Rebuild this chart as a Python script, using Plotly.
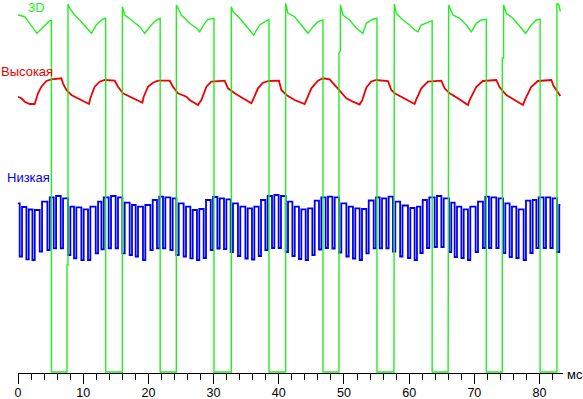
import plotly.graph_objects as go

# ---------------- data (time in ms, level in arbitrary units) ----------------
# 3D trace: (time, level) samples
green_samples = [
    (0.00, 358), (1.03, 356.3), (2.91, 339.7), (4.86, 352.3), (5.12, 352.3), (5.12, 1),
    (7.52, 1), (7.52, 108), (7.67, 108), (7.67, 369),
    (7.93, 364.7), (8.70, 358), (9.46, 353), (10.74, 343), (11.26, 339.7), (12.02, 348),
    (12.79, 353), (13.34, 354.7), (13.45, 354.7), (13.45, 1),
    (16.01, 1), (16.01, 366.3),
    (16.37, 358), (17.39, 353), (18.67, 346.3), (19.43, 339.7), (20.46, 348), (21.23, 353),
    (21.73, 354.7), (21.81, 354.7), (21.81, 1),
    (24.29, 1), (24.29, 368),
    (25.06, 358), (26.33, 349.7), (27.36, 345), (27.87, 341.3), (28.63, 349.7), (29.14, 353.7),
    (29.91, 354.7), (30.06, 354.7), (30.06, 1),
    (32.72, 1), (32.72, 366.3),
    (32.98, 361.3), (34.00, 354.7), (35.03, 346.3), (36.15, 338), (37.07, 348), (37.84, 351.3),
    (38.50, 353.7), (38.50, 1),
    (41.06, 1), (41.06, 369.7),
    (41.41, 359.7), (42.44, 356.3), (43.47, 348), (44.48, 339.7), (45.25, 346.3), (46.01, 351.3),
    (46.78, 353), (46.78, 1),
    (49.23, 1), (49.23, 320), (49.45, 322), (49.45, 368),
    (49.85, 358), (50.87, 353), (51.90, 344.7), (52.91, 339.7), (53.44, 349.7), (54.20, 353),
    (54.97, 354.7), (55.06, 354.7), (55.06, 1),
    (57.67, 1), (57.72, 369),
    (58.03, 359.7), (59.05, 353), (60.08, 348), (60.84, 343), (61.35, 341.3), (61.87, 348),
    (62.64, 350.3), (63.40, 352.3), (63.53, 352.3), (63.53, 1),
    (65.98, 1), (66.06, 368),
    (66.72, 358), (67.75, 354.7), (68.77, 348), (69.54, 341.3), (70.31, 349.7), (71.07, 353),
    (71.73, 353.7), (71.84, 353.7), (71.84, 1),
    (74.29, 1), (74.29, 314.7), (74.49, 314.7), (74.49, 368),
    (74.91, 359.7), (75.92, 354.7), (76.95, 346.3), (77.87, 339.7), (78.74, 348), (79.51, 353),
    (80.02, 353.7), (80.09, 353.7), (80.09, 1),
    (82.67, 1), (82.67, 369.7),
    (82.98, 368), (83.19, 361.3),
]

# "Высокая" trace: (time, level) samples
red_samples = [
    (0.00, 276.3), (0.52, 274.7), (1.03, 271.3), (1.79, 269), (2.56, 269), (2.71, 273),
    (3.07, 279.7), (3.59, 286.3), (4.36, 292), (5.12, 293.7), (6.66, 294.7), (6.90, 289.7),
    (7.42, 283), (8.19, 278), (9.20, 274.7), (10.23, 271.3), (10.89, 269), (11.10, 274.7),
    (11.76, 286.3), (12.53, 291.3), (13.30, 293), (14.83, 292.3), (15.34, 286.3), (16.10, 279.7),
    (17.13, 276.3), (18.16, 273), (19.08, 270.3), (19.28, 276.3), (19.94, 286.3), (20.71, 290.3),
    (21.47, 292.3), (23.27, 292.3), (23.77, 286.3), (24.54, 279.7), (25.83, 276.3), (26.33, 273),
    (27.61, 268), (28.13, 273), (28.90, 286.3), (29.66, 291.3), (31.70, 292.3), (32.21, 284.7),
    (33.24, 279.7), (34.51, 274.7), (35.80, 269.7), (36.04, 273), (36.81, 284.7), (37.58, 290.3),
    (38.50, 292), (40.03, 292.3), (40.40, 283), (41.17, 278), (42.44, 273), (43.97, 269),
    (44.33, 274.7), (45.00, 284.7), (46.01, 292.3), (46.78, 294.7), (47.81, 293.7), (48.57, 288),
    (49.34, 281.3), (50.37, 274.7), (51.38, 271.3), (52.41, 268.5), (52.82, 273), (53.44, 285.5),
    (54.20, 291.5), (54.97, 293), (56.75, 292), (57.27, 283), (57.78, 279.7), (58.80, 276.3),
    (59.82, 273), (60.84, 269), (61.10, 273.7), (61.87, 284.7), (62.88, 291.3), (64.94, 292.3),
    (65.44, 284.7), (66.21, 279.7), (67.48, 274.7), (69.02, 268), (69.28, 273), (70.31, 286.3),
    (71.32, 292), (73.37, 293), (73.88, 285.7), (74.91, 278), (76.18, 273), (77.45, 268),
    (77.87, 274.7), (78.74, 286.3), (79.75, 292), (81.81, 293), (82.16, 287), (82.82, 279.7),
    (83.19, 277),
]

# "Низкая" trace: PWM dips
blue_dip_ms = [
    0.26, 1.29, 2.21, 3.33, 4.51, 5.48, 6.55, 7.67, 8.59, 9.72,
    10.74, 11.92, 12.79, 13.91, 14.98, 16.01, 17.13, 18.05, 19.17, 20.31,
    21.32, 22.24, 23.37, 24.29, 25.41, 26.44, 27.45, 28.48, 29.56, 30.58,
    31.60, 32.62, 33.74, 34.88, 35.89, 36.92, 37.94, 38.96, 39.98, 41.06,
    42.09, 43.10, 44.13, 45.15, 46.17, 47.19, 48.22, 49.23, 50.37, 51.38,
    52.41, 53.44, 54.56, 55.48, 56.50, 57.52, 58.62, 59.82, 60.84, 61.72,
    62.73, 63.91, 64.94, 66.10, 66.98, 68.01, 69.02, 70.20, 71.32, 72.24,
    73.37, 74.39, 75.41, 76.44, 77.56, 78.59, 79.51, 80.63, 81.66, 82.67,
]
blue_dip_width_ms = 0.36
blue_high = [
    169.7, 166, 163.5, 163, 171.3, 175.7, 177, 174.7, 166.3, 165.7,
    163.7, 166.3, 171.3, 175.7, 177, 175.7, 170.3, 168, 166.3, 168,
    173, 176.3, 175.7, 174.7, 169.7, 166.3, 163, 164, 173, 176,
    174.7, 173.7, 169.7, 166.3, 164.7, 166.3, 173, 177, 178, 177,
    171.3, 166.3, 163.7, 164.7, 172.3, 175.7, 176.3, 175.7, 169.7, 166.3,
    164.7, 164, 172.5, 175.7, 174.7, 176.3, 171.3, 167.5, 165, 166.3,
    173, 175.7, 177, 174.7, 170.3, 166.3, 163.7, 166.3, 171.3, 176.3,
    175.7, 174.7, 169.7, 166.3, 163.7, 172.3, 173, 175.7, 175.7, 174.7,
    168,
]
blue_low = [
    116.3, 113.7, 113, 121.3, 123, 124.7, 124.7, 118, 114.7, 113,
    113, 119.7, 123.7, 124.7, 124.7, 119.7, 118, 116.3, 113, 123,
    124.7, 124.7, 123, 118, 116.3, 114.7, 113,
    115, 123, 124.5, 124, 121, 117, 114.5, 113.5, 117, 123,
    125, 125, 121, 117, 114, 113, 118, 123.5, 125, 124.5,
    120.5, 116.5, 114.5, 113, 119.7, 124.7, 124.7, 124.7, 121.3,
    116.5, 115, 113, 120, 125, 126, 126, 121, 116, 115,
    113, 121, 125, 125, 125, 120, 116, 115, 113, 120,
    125, 125, 125, 121,
]
blue_end_ms = 83.19

x_tick_step = 10
x_minor_step = 2
x_max = 83.6
y_max = 373

assert len(blue_high) == len(blue_dip_ms) + 1
assert len(blue_low) == len(blue_dip_ms)

# ---------------- build traces ----------------
gx = [p[0] for p in green_samples]
gy = [p[1] for p in green_samples]
rx = [p[0] for p in red_samples]
ry = [p[1] for p in red_samples]

bx, by = [0.0], [blue_high[0]]
for k, t in enumerate(blue_dip_ms):
    bx += [t, t, t + blue_dip_width_ms, t + blue_dip_width_ms]
    by += [blue_high[k], blue_low[k], blue_low[k], blue_high[k + 1]]
bx.append(blue_end_ms)
by.append(blue_high[-1])

GREEN = "#22ee22"
RED = "#ee0000"
BLUE = "#0000ee"

fig = go.Figure()
fig.add_trace(go.Scatter(x=bx, y=by, mode="lines", line=dict(color=BLUE, width=1.8),
                         hoverinfo="skip", showlegend=False))
fig.add_trace(go.Scatter(x=rx, y=ry, mode="lines", line=dict(color=RED, width=1.8),
                         hoverinfo="skip", showlegend=False))
fig.add_trace(go.Scatter(x=gx, y=gy, mode="lines", line=dict(color=GREEN, width=1.4),
                         hoverinfo="skip", showlegend=False))

font = "Liberation Sans, Arial, sans-serif"
L, R, T, B = 18, 20, 0, 26
W, H = 583, 399
pw = W - L - R
ph = H - T - B

def px_x(px):
    return (px - L) / pw

def px_y(py):
    return (H - B - py) / ph

ann = [
    dict(text="3D", x=px_x(36.7), y=px_y(7), color=GREEN, xanchor="center"),
    dict(text="Высокая", x=px_x(-0.5), y=px_y(71), color=RED, xanchor="left"),
    dict(text="Низкая", x=px_x(6), y=px_y(177.5), color=BLUE, xanchor="left"),
    dict(text="мс", x=px_x(566), y=px_y(374), color="black", xanchor="left"),
]
for a in ann:
    fig.add_annotation(text=a["text"], x=a["x"], y=a["y"], xref="paper", yref="paper",
                       xanchor=a["xanchor"], yanchor="middle", showarrow=False,
                       borderpad=0,
                       font=dict(family=font, size=13, color=a["color"]))

fig.update_layout(
    width=W, height=H,
    margin=dict(l=L, r=R, t=T, b=B, pad=0, autoexpand=False),
    paper_bgcolor="white", plot_bgcolor="white",
    xaxis=dict(range=[0, x_max], showgrid=False, zeroline=False,
               showline=True, linecolor="black", linewidth=1,
               ticks="outside", ticklen=10, tickwidth=1, tickcolor="black",
               tick0=0, dtick=x_tick_step, automargin=False,
               ticklabelstandoff=-2,
               minor=dict(dtick=x_minor_step, ticks="outside", ticklen=6,
                          tickwidth=1, tickcolor="black", showgrid=False),
               tickfont=dict(family=font, size=12.5, color="black")),
    yaxis=dict(range=[0, y_max], visible=False, showgrid=False, zeroline=False),
)

fig.write_html("out.html",
               config={"displayModeBar": False, "staticPlot": True},
               post_script="document.body.style.margin='0';document.body.style.padding='0';")
